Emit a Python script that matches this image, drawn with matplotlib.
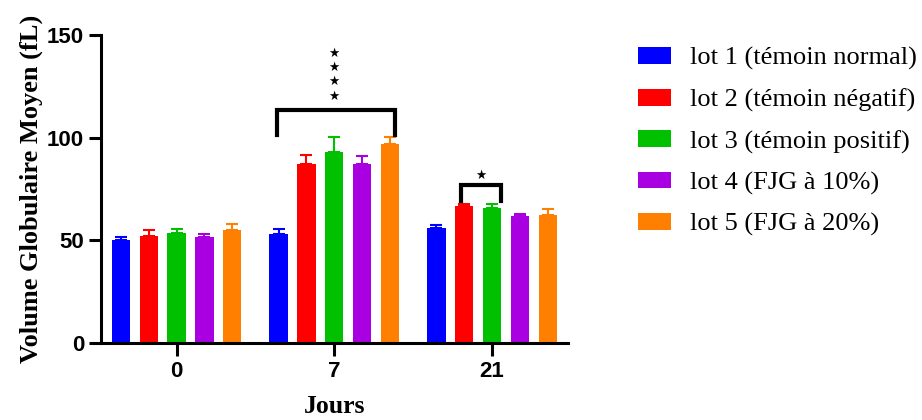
import matplotlib
matplotlib.use("Agg")
import matplotlib.pyplot as plt
import numpy as np

days = ["0", "7", "21"]
groups = ["lot 1 (témoin normal)", "lot 2 (témoin négatif)", "lot 3 (témoin positif)",
          "lot 4 (FJG à 10%)", "lot 5 (FJG à 20%)"]
colors = ["#0000FF", "#FF0000", "#00C000", "#A800E0", "#FF8000"]

# mean values per lot, one entry per day
lot1 = [50.2, 53.0, 56.2]
lot2 = [52.3, 87.4, 66.9]
lot3 = [53.5, 93.0, 65.7]
lot4 = [51.7, 87.1, 61.9]
lot5 = [54.9, 96.9, 62.3]
# upper error (SEM)
err1 = [1.6, 2.6, 1.5]
err2 = [2.6, 4.1, 0.7]
err3 = [2.1, 7.4, 1.9]
err4 = [1.6, 3.9, 0.8]
err5 = [3.0, 3.5, 3.0]

means = [lot1, lot2, lot3, lot4, lot5]
errs = [err1, err2, err3, err4, err5]

fig = plt.figure(figsize=(9.22, 4.2), dpi=100)
ax = fig.add_axes([0.110, 0.183, 0.506, 0.734])

x = np.arange(len(days))
step = 0.1765
width = 0.116
for i in range(5):
    pos = x + (i - 2) * step
    ax.bar(pos, means[i], width, color=colors[i], label=groups[i], zorder=2)
    ax.errorbar(pos, means[i], yerr=[np.zeros(3), errs[i]], fmt="none",
                ecolor=colors[i], elinewidth=1.5, capsize=4, capthick=1.5, zorder=1)

# significance brackets
ax.plot([1 - 0.366, 1 - 0.366, 1 + 0.384, 1 + 0.384], [101.4, 113.3, 113.3, 101.4],
        color="black", lw=3, solid_joinstyle="miter", clip_on=False)
for yy in [120.0, 127.2, 134.3, 141.2]:
    ax.text(1.0, yy, "★", ha="center", va="center", fontsize=9,
            fontfamily="DejaVu Sans")
ax.plot([2 - 0.199, 2 - 0.199, 2 + 0.056, 2 + 0.056], [69.4, 76.9, 76.9, 69.4],
        color="black", lw=3, solid_joinstyle="miter", clip_on=False)
ax.text(1.93, 81.6, "★", ha="center", va="center", fontsize=9, fontfamily="DejaVu Sans")

ax.set_xlim(-0.476, 2.481)
ax.set_ylim(0, 150)
ax.set_yticks([0, 50, 100, 150])
ax.set_xticks(x)
ax.set_xticklabels(days)
for s in ["top", "right"]:
    ax.spines[s].set_visible(False)
for s in ["left", "bottom"]:
    ax.spines[s].set_linewidth(2.2)
ax.tick_params(width=2.2, length=9, labelsize=16)
for lab in ax.get_xticklabels() + ax.get_yticklabels():
    lab.set_fontfamily("Liberation Sans")
    lab.set_fontweight("bold")

ax.set_ylabel("Volume Globulaire Moyen (fL)", fontfamily="Liberation Serif",
              fontweight="bold", fontsize=19, labelpad=3)
ax.set_xlabel("Jours", fontfamily="Liberation Serif", fontweight="bold",
              fontsize=18.5, labelpad=10)

ax.legend(loc="upper left", bbox_to_anchor=(1.150, 0.960), frameon=False,
          borderpad=0, borderaxespad=0,
          prop={"family": "Liberation Serif", "size": 19},
          handlelength=1.25, handleheight=0.6, labelspacing=0.69, handletextpad=0.72)

fig.savefig("out.png", dpi=100)
